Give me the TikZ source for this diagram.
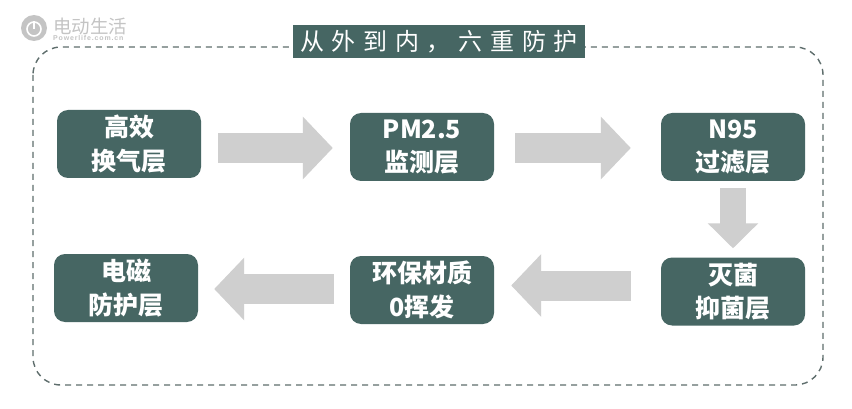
\documentclass[tikz,border=0pt]{standalone}
\usepackage{fontspec}
\setmainfont{Noto Sans CJK SC}
\newfontfamily\titlefont[LetterSpace=32]{Noto Sans CJK SC}
\newfontfamily\wmfont[LetterSpace=12]{Liberation Sans}
\usetikzlibrary{arrows.meta,positioning}
\definecolor{boxgreen}{HTML}{466663}
\definecolor{arrowgray}{HTML}{CFCFCF}
\definecolor{framegray}{HTML}{5F6E6D}
\definecolor{wmgray}{HTML}{C4C4C4}
\tikzset{
  stagebox/.style={fill=boxgreen,rounded corners=11pt,minimum width=144pt,minimum height=68pt,inner sep=0pt,align=center,text=white,font=\fontsize{25}{33.5}\selectfont\bfseries},
  blockh/.style={draw=arrowgray,line width=30pt,-{Triangle[length=30pt,width=61pt]}},
  blockv/.style={draw=arrowgray,line width=26pt,-{Triangle[length=25pt,width=49pt]}},
  framebox/.style={draw=framegray,line width=1.4pt,dash pattern=on 6pt off 5pt,rounded corners=28pt},
  titlebox/.style={fill=boxgreen,minimum width=292pt,minimum height=33pt,inner sep=0pt,text=white,font=\fontsize{24}{26}\titlefont},
}
\begin{document}
\begin{tikzpicture}[x=1pt,y=-1pt]
\useasboundingbox[fill=white] (0,0) rectangle (852,409);
% frame
\draw[framebox] (33,47) rectangle (823,385);
\node[titlebox] (title) at (439,41.5) {从外到内，六重防护};
% watermark
\node[circle,fill=wmgray,minimum size=26pt,inner sep=0pt] (logo) at (34,28) {};
\node[circle,draw=white,line width=1.6pt,minimum size=14pt,inner sep=0pt] (logoring) at (34,29) {};
\draw[white,line width=2pt] (logoring.center) -- (logoring.north);
\node[anchor=west,inner sep=0pt,text=wmgray,font=\fontsize{18.5}{20}\selectfont] (wmcn) at (53,26) {电动生活};
\node[anchor=west,inner sep=0pt,text=wmgray,font=\fontsize{7}{8}\wmfont\bfseries] (wmen) at (53,38) {Powerlife.com.cn};
% stages
\node[stagebox] (a) at (129,144) {高效\\换气层};
\node[stagebox] (b) at (422,147) {PM2.5\\监测层};
\node[stagebox] (c) at (733,147) {N95\\过滤层};
\node[stagebox] (d) at (733,291.5) {灭菌\\抑菌层};
\node[stagebox] (e) at (422,290) {环保材质\\0挥发};
\node[stagebox] (f) at (126,288) {电磁\\防护层};
% block arrows
\draw[blockh] ([xshift=17pt,yshift=-4pt]a.east) -- ([xshift=-17pt,yshift=-1pt]b.west);
\draw[blockh] ([xshift=21pt,yshift=-1pt]b.east) -- ([xshift=-30pt,yshift=-1pt]c.west);
\draw[blockv] ([yshift=-7pt]c.south) -- ([yshift=9pt]d.north);
\draw[blockh] ([xshift=-30pt,yshift=6pt]d.west) -- ([xshift=17pt,yshift=4.5pt]e.east);
\draw[blockh] ([xshift=-16pt,yshift=1pt]e.west) -- ([xshift=16pt,yshift=-1pt]f.east);
\end{tikzpicture}
\end{document}
